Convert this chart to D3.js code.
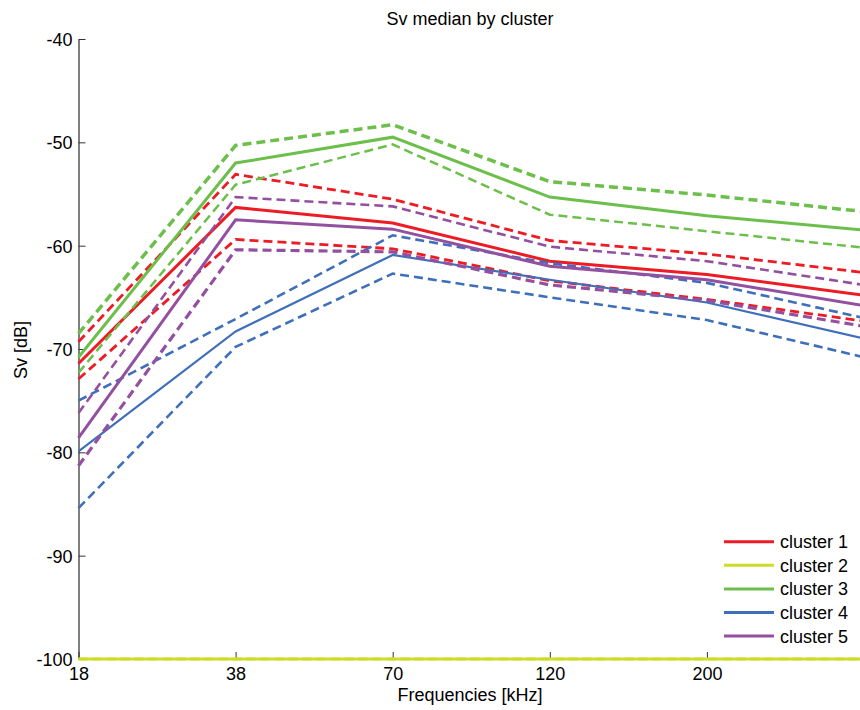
<!DOCTYPE html>
<html>
<head>
<meta charset="utf-8">
<script src="https://cdn.jsdelivr.net/npm/d3@7/dist/d3.min.js"></script>
<style>
  html, body { margin: 0; padding: 0; background: #fff; }
  svg { display: block; font-family: "Liberation Sans", Arial, sans-serif; }
</style>
</head>
<body>
<svg id="chart" width="860" height="710"></svg>
<script>
// ---- data ----
const categories = ["18", "38", "70", "120", "200", "333"];
const tickLabels = ["18", "38", "70", "120", "200", ""];
const yTicks = [-100, -90, -80, -70, -60, -50, -40];
const clusterNames = ["cluster 1", "cluster 2", "cluster 3", "cluster 4", "cluster 5"];
const clusterColors = ["#ed1c24", "#cddc29", "#6dbf4b", "#3f6fba", "#9450a0"];

const c1Median = [-71.4, -56.3, -57.8, -61.5, -62.8, -64.8];
const c1Upper  = [-69.3, -53.1, -55.5, -59.5, -60.8, -62.6];
const c1Lower  = [-72.9, -59.4, -60.3, -63.4, -65.2, -67.3];

const c2Median = [-100, -100, -100, -100, -100, -100];
const c2Upper  = [-100, -100, -100, -100, -100, -100];
const c2Lower  = [-100, -100, -100, -100, -100, -100];

const c3Median = [-70.8, -52.0, -49.5, -55.3, -57.1, -58.5];
const c3Upper  = [-68.5, -50.3, -48.3, -53.8, -55.1, -56.7];
const c3Lower  = [-72.3, -54.1, -50.2, -57.0, -58.6, -60.2];

const c4Median = [-79.9, -68.3, -60.9, -63.3, -65.5, -69.0];
const c4Upper  = [-75.0, -67.1, -59.0, -61.7, -63.6, -67.0];
const c4Lower  = [-85.4, -69.8, -62.7, -65.0, -67.2, -70.8];

const c5Median = [-78.6, -57.5, -58.4, -62.0, -63.3, -65.8];
const c5Upper  = [-76.2, -55.3, -56.2, -60.1, -61.5, -63.8];
const c5Lower  = [-81.3, -60.4, -60.6, -63.8, -65.3, -67.8];

const medians = [c1Median, c2Median, c3Median, c4Median, c5Median];
const uppers  = [c1Upper, c2Upper, c3Upper, c4Upper, c5Upper];
const lowers  = [c1Lower, c2Lower, c3Lower, c4Lower, c5Lower];

// ---- layout ----
const svg = d3.select("#chart");
const mLeft = 78.5, mRight = 864, mTop = 39, mBottom = 659;
const fs = 18;

const x = d3.scalePoint().domain(categories).range([mLeft, mRight]);
const y = d3.scaleLinear().domain([-100, -40]).range([mBottom, mTop]);

const line = d3.line().x((d, i) => x(categories[i])).y(d => y(d));

// title
svg.append("text").attr("x", 470).attr("y", 25).attr("text-anchor", "middle")
  .attr("font-size", fs).attr("fill", "#000").text("Sv median by cluster");

// axes
const yAxis = d3.axisLeft(y).tickValues(yTicks).tickSizeInner(-7).tickSizeOuter(0).tickPadding(6)
  .tickFormat(d => String(d));
const gy = svg.append("g").attr("transform", `translate(${mLeft},0)`).call(yAxis);
gy.select(".domain").attr("stroke", "#000");
gy.selectAll(".tick line").attr("stroke", "#333");
gy.selectAll(".tick text").attr("font-size", fs).attr("fill", "#000")
  .attr("font-family", "Liberation Sans, Arial, sans-serif").attr("dy", "0.36em");

const xAxis = d3.axisBottom(x).tickSizeInner(-7).tickSizeOuter(0).tickPadding(8)
  .tickFormat((d, i) => tickLabels[i]);
const gx = svg.append("g").attr("transform", `translate(0,${mBottom})`).call(xAxis);
gx.select(".domain").attr("stroke", "#000");
gx.selectAll(".tick line").attr("stroke", "#333");
gx.selectAll(".tick text").attr("font-size", fs).attr("fill", "#000")
  .attr("font-family", "Liberation Sans, Arial, sans-serif");

// axis labels
svg.append("text").attr("x", 470).attr("y", 701).attr("text-anchor", "middle")
  .attr("font-size", fs).attr("fill", "#000").text("Frequencies [kHz]");
svg.append("text").attr("transform", "translate(27,350) rotate(-90)").attr("text-anchor", "middle")
  .attr("font-size", fs).attr("fill", "#000").text("Sv [dB]");

// lines
const plot = svg.append("g");
const dashW = [[2.8, 2.8], [2.5, 2.5], [3.5, 2.5], [2.6, 2.6], [2.6, 3.2]];
const solidW = [3, 3, 3, 2.2, 3];
medians.forEach((m, k) => {
  plot.append("path").datum(uppers[k]).attr("d", line).attr("fill", "none")
    .attr("stroke", clusterColors[k]).attr("stroke-width", dashW[k][0]).attr("stroke-dasharray", "9,5");
  plot.append("path").datum(lowers[k]).attr("d", line).attr("fill", "none")
    .attr("stroke", clusterColors[k]).attr("stroke-width", dashW[k][1]).attr("stroke-dasharray", "9,5");
  plot.append("path").datum(m).attr("d", line).attr("fill", "none")
    .attr("stroke", clusterColors[k]).attr("stroke-width", solidW[k]);
});

// legend
const lg = svg.append("g");
clusterNames.forEach((name, k) => {
  const yy = 541.7 + k * 23.6;
  lg.append("line").attr("x1", 724).attr("x2", 774).attr("y1", yy).attr("y2", yy)
    .attr("stroke", clusterColors[k]).attr("stroke-width", 3);
  lg.append("text").attr("x", 780).attr("y", yy).attr("dy", "0.36em")
    .attr("font-size", fs).attr("fill", "#000").text(name);
});
</script>
</body>
</html>
